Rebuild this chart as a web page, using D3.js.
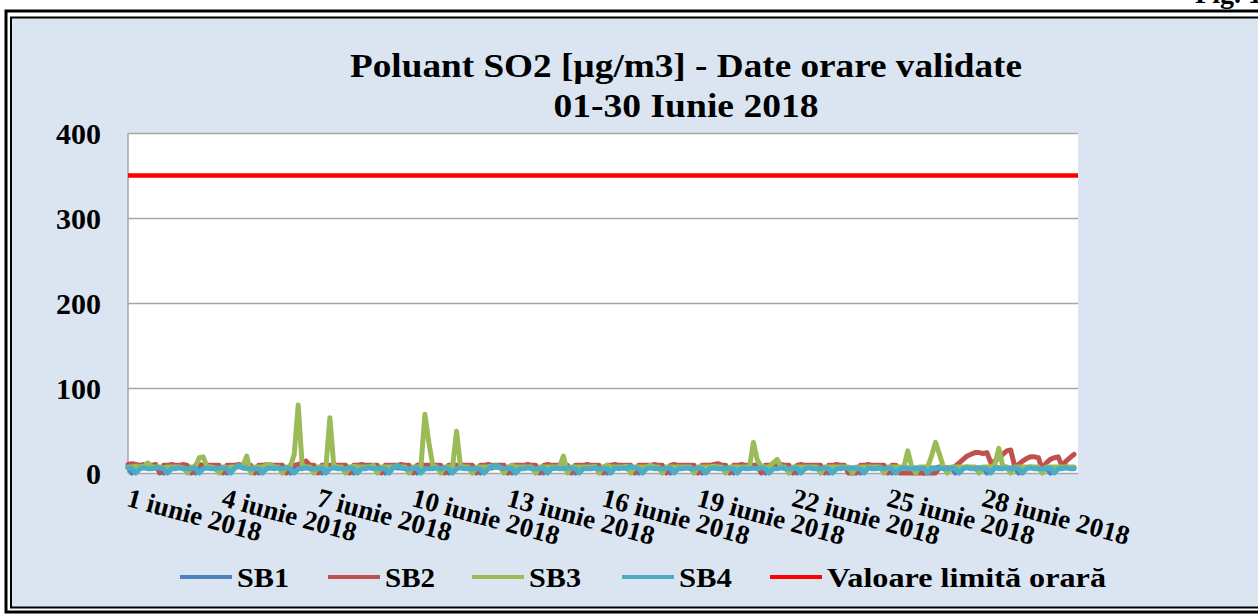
<!DOCTYPE html>
<html lang="ro">
<head>
<meta charset="UTF-8">
<title>Poluant SO2</title>
<script src="https://d3js.org/d3.v7.min.js"></script>
<style>
  body { margin: 0; background: #fff; }
  text { font-family: "Liberation Serif", "Times New Roman", serif; font-weight: bold; fill: #000; }
  .gridline line { stroke: #a6a6a6; stroke-width: 1.5; }
  .gridline path { display: none; }
  .series { fill: none; stroke-width: 5; stroke-linejoin: round; stroke-linecap: round; }
</style>
</head>
<body>
<script>

// ================== DATA (3-hour steps, 8 values per day) ==================
var dayLabels = ["1 iunie 2018", "4 iunie 2018", "7 iunie 2018", "10 iunie 2018", "13 iunie 2018",
                 "16 iunie 2018", "19 iunie 2018", "22 iunie 2018", "25 iunie 2018", "28 iunie 2018"];
var labelDays = [1, 4, 7, 10, 13, 16, 19, 22, 25, 28];
var yTicks = [0, 100, 200, 300, 400];
var limitValue = 350;
var seriesNames = ["SB1", "SB2", "SB3", "SB4"];

var sb1 = [
  7,0,6,6,7,6,6,6,  6,0,5,6,6,7,6,6,  6,0,6,7,6,6,5,6,  6,0,6,6,8,6,6,6,  6,0,6,5,6,7,6,6,
  6,0,7,6,8,7,6,6,  6,0,6,6,7,6,6,5,  6,0,6,6,6,7,6,6,  6,0,6,7,6,6,6,6,  6,0,6,7,8,6,6,6,
  6,0,6,6,7,6,6,6,  6,0,6,6,6,7,6,6,  6,0,6,6,7,8,6,6,  6,0,6,6,6,6,7,6,  6,0,6,7,6,6,6,6,
  6,0,6,6,7,6,6,6,  6,0,6,6,8,7,6,6,  6,0,6,6,6,6,7,6,  6,0,6,7,6,6,6,6,  6,0,6,6,7,6,6,6,
  6,0,6,6,8,9,7,6,  6,0,6,6,7,8,6,6,  6,0,6,6,6,7,6,6,  6,0,6,7,6,6,6,6,  6,0,6,6,7,6,6,6,
  6,0,6,6,6,7,6,6,  6,0,6,6,7,6,6,6,  6,0,6,7,6,6,6,6,  6,0,6,6,7,6,6,6,  6,0,6,6,6,7,6,6
];

var sb2 = [
  10,11,10,9,10,9,9,10,  0,9,9,10,9,9,10,9,  0,9,10,9,9,9,9,9,  0,9,9,9,10,9,9,9,  0,9,9,10,9,9,9,9,
  0,9,9,10,12,14,9,9,    0,9,9,9,10,9,9,9,   0,9,9,10,9,9,9,9,  0,9,9,9,9,10,9,9,  0,9,10,9,9,9,9,9,
  0,9,9,9,10,9,9,9,      0,9,9,10,9,9,9,9,   0,9,9,9,9,10,9,9,  0,9,10,9,9,9,9,9,  0,9,9,9,10,9,9,9,
  0,9,9,10,9,9,9,9,      0,9,9,9,9,10,9,9,   0,9,10,9,9,9,9,9,  0,9,9,9,10,11,9,9, 0,9,9,10,9,9,9,9,
  0,9,9,9,9,10,9,9,      0,9,10,9,9,9,9,9,   0,9,9,10,9,9,0,0,  0,9,9,10,9,9,9,9,  0,9,9,0,0,0,0,0,
  0,0,0,0,0,6,6,6,
  5,8,12,16,20,22,24,24,  23,24,12,14,18,22,26,27,  8,10,14,17,19,19,18,4,  12,16,18,19,8,14,18,22
];

var sb3 = [
  7,7,8,7,8,12,7,7,  7,6,7,7,7,7,6,0,  7,7,18,19,7,7,6,0,  7,6,7,7,7,8,20,0,  7,7,7,10,10,7,7,0,
  7,7,22,80,9,7,7,0, 7,7,7,65,8,7,7,0,  7,8,7,7,7,7,9,0,    7,7,7,7,8,7,7,0,   7,7,7,69,36,9,7,0,
  7,7,7,49,8,7,7,0,  7,7,7,7,8,7,7,0,   7,9,7,7,7,7,7,0,    7,7,7,7,7,7,20,0,  7,7,7,7,7,7,8,0,
  7,9,7,7,7,7,8,0,   7,7,7,7,9,7,7,0,   7,7,7,7,7,7,7,0,    7,7,7,7,8,7,7,0,   7,7,7,7,7,7,36,15,
  8,7,7,12,16,7,7,0, 7,7,7,7,7,7,7,0,   7,7,7,7,7,7,7,0,    7,7,7,7,7,7,7,0,   7,7,7,7,7,26,7,0,
  7,7,7,20,36,22,7,0, 7,7,7,7,7,7,7,0,  7,7,7,10,29,8,7,0,  7,7,7,7,7,7,7,0,   7,7,7,7,7,7,7,7
];

var sb4 = [
  6,5,0,5,6,5,5,6,  6,5,0,5,5,6,5,5,  5,6,0,5,6,5,5,6,  6,5,0,6,9,6,5,5,  5,5,0,5,6,5,6,5,
  6,5,0,5,5,6,5,5,  5,6,0,5,6,5,5,5,  6,5,0,5,5,6,5,6,  5,5,0,6,9,6,5,5,  5,6,0,5,5,5,6,5,
  6,5,0,5,6,5,5,5,  5,5,0,5,8,9,6,5,  6,5,0,5,5,6,5,5,  5,6,0,5,6,5,5,6,  6,5,0,5,5,5,6,5,
  5,5,0,6,5,6,5,8,  6,5,0,5,6,5,5,5,  5,6,0,5,5,6,5,5,  6,5,0,5,6,5,5,6,  5,5,0,6,5,5,6,5,
  6,5,0,5,5,6,5,5,  5,6,0,5,6,5,5,5,  6,5,0,5,5,6,5,6,  5,5,0,6,5,5,6,5,  6,5,0,5,6,5,5,5,
  5,6,0,5,5,6,5,5,  6,5,0,5,6,5,5,6,  5,5,0,6,5,5,6,5,  6,5,0,5,6,5,5,5,  5,6,0,5,5,6,5,5
];

var colors = { SB1: "#4f81bd", SB2: "#c0504d", SB3: "#9bbb59", SB4: "#4bacc6", limit: "#ff0000" };

// ================== INIT SVG ==================
var w = 1258;
var h = 614;
var margin = { top: 133, left: 128, right: 180, bottom: 141 };
var width = w - margin.left - margin.right;
var height = h - margin.top - margin.bottom;

var svg = d3.select("body").append("svg")
    .attr("width", w)
    .attr("height", h);

// outer frame (double line)
svg.append("rect").attr("x", 0).attr("y", 0).attr("width", w).attr("height", h).attr("fill", "#fff");
svg.append("rect").attr("x", 6).attr("y", 11).attr("width", w + 20).attr("height", h - 13)
    .attr("fill", "none").attr("stroke", "#000").attr("stroke-width", 3);
svg.append("rect").attr("x", 11).attr("y", 17.5).attr("width", w + 20).attr("height", h - 24)
    .attr("fill", "#dbe5f1").attr("stroke", "#000").attr("stroke-width", 2);

// caption partly cut by the top edge, as in the source
svg.append("text").attr("x", 1262).attr("y", 3).attr("text-anchor", "end")
    .style("font-size", "28px").text("Fig. 1");

var chart = svg.append("g")
    .attr("transform", "translate(" + margin.left + "," + margin.top + ")");

chart.append("rect").attr("width", width).attr("height", height).attr("fill", "#fff");

// ================== SCALES ==================
var x = d3.scaleLinear().domain([0, sb1.length]).range([0, width]);
var y = d3.scaleLinear().domain([0, 400]).range([height, 0]);

var yGridlines = d3.axisLeft(y).tickValues(yTicks).tickSize(-width).tickFormat("");
chart.append("g").classed("gridline", true).call(yGridlines);

// left axis line
chart.append("line").attr("x1", 0).attr("x2", 0).attr("y1", 0).attr("y2", height)
    .attr("stroke", "#a6a6a6").attr("stroke-width", 1.5);

// y labels
chart.selectAll(".ylabel")
    .data(yTicks)
    .enter().append("text")
    .attr("x", -27)
    .attr("y", function(d){ return y(d); })
    .attr("dy", "0.35em")
    .attr("text-anchor", "end")
    .style("font-size", "30px")
    .text(function(d){ return d; });

// ================== LINES ==================
var line = d3.line()
    .x(function(d, i){ return x(i); })
    .y(function(d){ return y(d); });

var seriesData = [sb1, sb2, sb3, sb4];
seriesData.forEach(function(s, k){
    chart.append("path")
        .datum(s)
        .classed("series", true)
        .attr("stroke", colors[seriesNames[k]])
        .attr("d", line);
});

chart.append("line")
    .attr("x1", x(0)).attr("x2", x(sb1.length))
    .attr("y1", y(limitValue)).attr("y2", y(limitValue))
    .attr("stroke", colors.limit).attr("stroke-width", 4.5);

// ================== X LABELS ==================
chart.selectAll(".xlabel")
    .data(labelDays)
    .enter().append("text")
    .attr("transform", function(d){
        return "translate(" + (x((d - 1) * 8) + 3) + "," + (height + 12) + ") rotate(15)";
    })
    .attr("dy", "0.8em")
    .style("font-size", "27px")
    .text(function(d, i){ return dayLabels[i]; });

// ================== TITLE ==================
svg.append("text").attr("x", 686).attr("y", 77).attr("text-anchor", "middle")
    .style("font-size", "33px").attr("textLength", 672).attr("lengthAdjust", "spacingAndGlyphs")
    .text("Poluant SO2 [µg/m3] - Date orare validate");
svg.append("text").attr("x", 686).attr("y", 117).attr("text-anchor", "middle")
    .style("font-size", "33px").attr("textLength", 265).attr("lengthAdjust", "spacingAndGlyphs")
    .text("01-30 Iunie 2018");

// ================== LEGEND ==================
var legendItems = [
    { name: "SB1", color: colors.SB1, x: 180, tw: 52 },
    { name: "SB2", color: colors.SB2, x: 328, tw: 50 },
    { name: "SB3", color: colors.SB3, x: 472, tw: 52 },
    { name: "SB4", color: colors.SB4, x: 622, tw: 53 },
    { name: "Valoare limită orară", color: colors.limit, x: 770, tw: 279 }
];
var legend = svg.selectAll(".legend")
    .data(legendItems)
    .enter().append("g")
    .attr("transform", function(d){ return "translate(" + d.x + ",577)"; });
legend.append("line").attr("x1", 0).attr("x2", 52)
    .attr("stroke", function(d){ return d.color; }).attr("stroke-width", 4);
legend.append("text").attr("x", 57).attr("dy", "0.35em")
    .style("font-size", "28px")
    .attr("textLength", function(d){ return d.tw; })
    .attr("lengthAdjust", "spacingAndGlyphs")
    .text(function(d){ return d.name; });

</script>
</body>
</html>
